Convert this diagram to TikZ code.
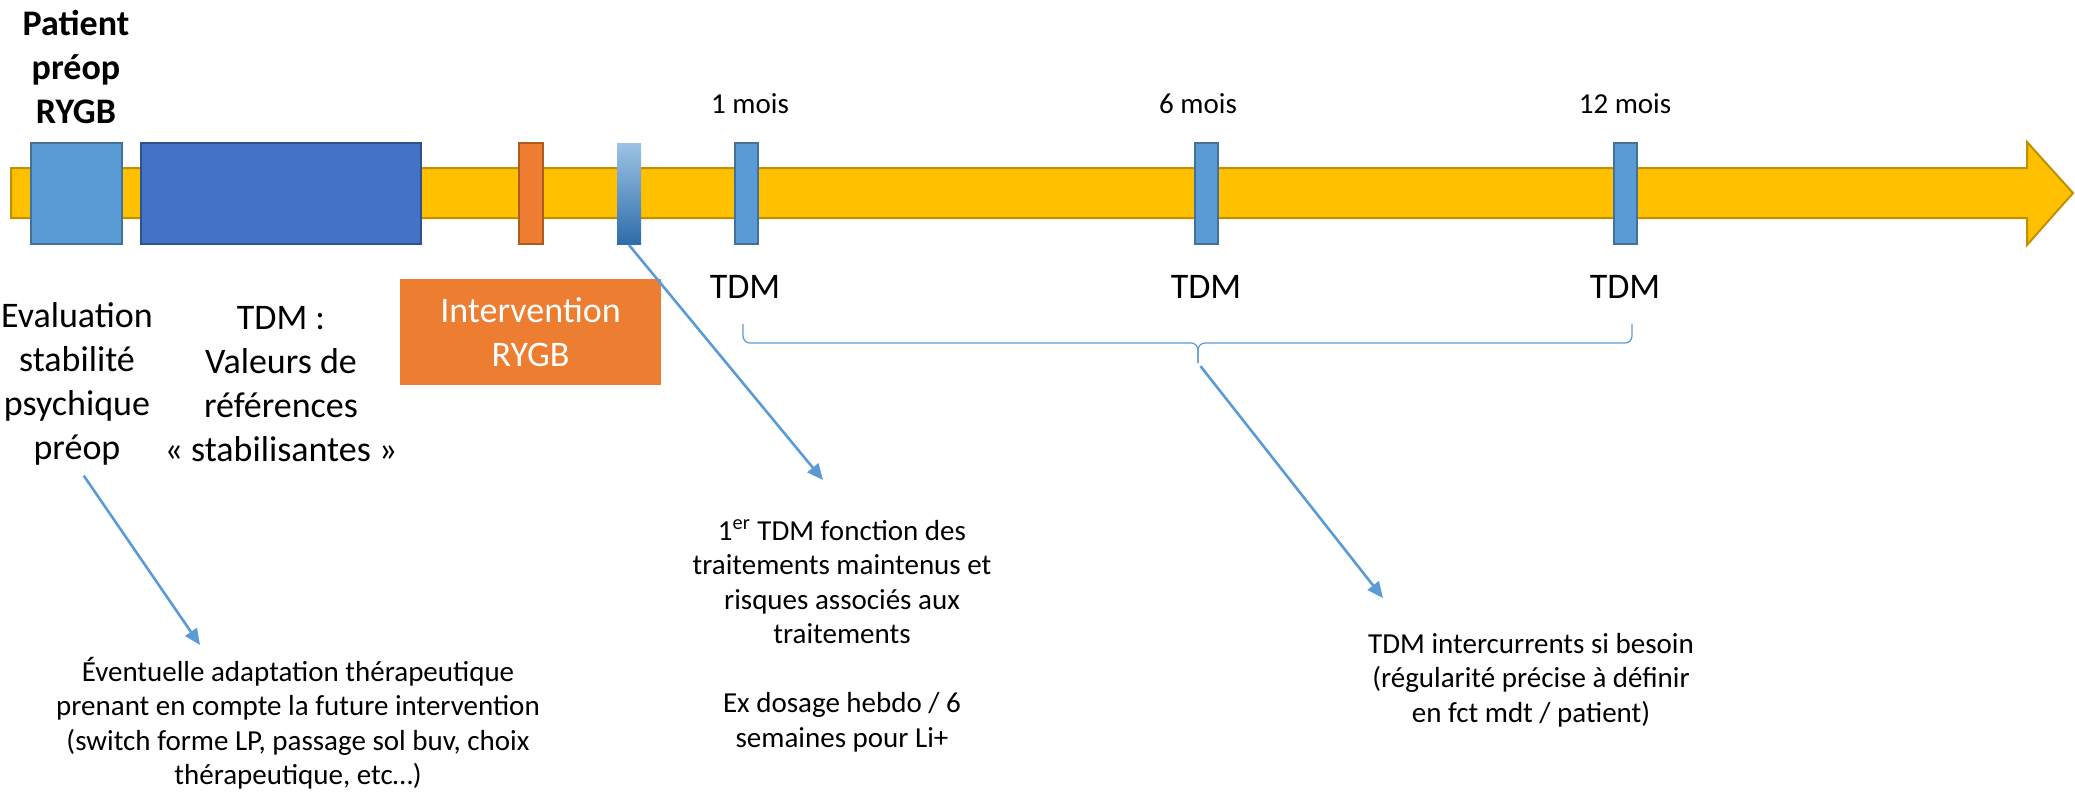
\documentclass[tikz,border=0pt]{standalone}
\usepackage{fontspec}
\setmainfont{Carlito}
\usepackage{xcolor}
\usepackage{tikz}
\usetikzlibrary{positioning, arrows.meta, calc}

\definecolor{tlYellow}{HTML}{FFC000}
\definecolor{tlYellowDark}{HTML}{BF9000}
\definecolor{tdmBlue}{HTML}{5B9BD5}
\definecolor{tdmBlueDark}{HTML}{41719C}
\definecolor{refBlue}{HTML}{4472C4}
\definecolor{refBlueDark}{HTML}{2F528F}
\definecolor{opOrange}{HTML}{ED7D31}
\definecolor{opOrangeDark}{HTML}{AE5A21}
\definecolor{gradTop}{HTML}{9DC3E6}
\definecolor{gradBottom}{HTML}{2E6DAA}

\begin{document}
\begin{tikzpicture}[
        x=0.5pt, y=-0.5pt,
        >=Stealth,
        % the yellow time axis
        timeline/.style={fill=tlYellow, draw=tlYellowDark, line width=1pt, line join=miter},
        % the boxes sitting on the axis
        phase/.style={rectangle, line width=1pt, minimum height=50.5pt, inner sep=0pt},
        tdmmark/.style={phase, fill=tdmBlue, draw=tdmBlueDark, minimum width=11.5pt},
        bigtext/.style={align=center, font=\fontsize{18}{22}\selectfont, inner sep=0pt},
        smalltext/.style={align=center, font=\fontsize{14.5}{17.25}\selectfont, inner sep=0pt},
        pointer/.style={-{Triangle[length=8pt,width=7pt]}, draw=tdmBlue, line width=1.3pt},
        bracket/.style={draw=tdmBlue, line width=0.6pt, rounded corners=3.5pt}
    ]
    \useasboundingbox (0,0) rectangle (2075,799);

    % --- Time axis ---
    \draw[timeline] (11,168) -- (2027,168) -- (2027,142) -- (2073,193)
        -- (2027,245) -- (2027,218) -- (11,218) -- cycle;

    % --- Pre-op and surgery boxes ---
    \node[phase, fill=tdmBlue, draw=tdmBlueDark, minimum width=45.5pt] (evalbox) at (76.5,193) {};
    \node[phase, fill=refBlue, draw=refBlueDark, minimum width=140pt] (refbox) at (280.5,193) {};
    \node[phase, fill=opOrange, draw=opOrangeDark, minimum width=12pt] (opbox) at (530.5,193) {};
    \node[phase, top color=gradTop, bottom color=gradBottom, minimum width=12pt] (firstbox) at (629,193.5) {};

    % --- TDM markers ---
    \node[tdmmark] (m1) at (746,193) {};
    \node[tdmmark] (m6) at (1206,193) {};
    \node[tdmmark] (m12) at (1625,193) {};

    \node[smalltext, anchor=base] (t1) at (750,113) {1 mois};
    \node[smalltext, anchor=base] (t6) at (1198,113) {6 mois};
    \node[smalltext, anchor=base] (t12) at (1625,113) {12 mois};

    \node[bigtext, anchor=base] (d1) at (745,298) {TDM};
    \node[bigtext, anchor=base] (d6) at (1206,298) {TDM};
    \node[bigtext, anchor=base] (d12) at (1625,298) {TDM};

    % --- Labels of the boxes ---
    \node[bigtext, font=\fontsize{18}{22}\selectfont\bfseries] (patient) at (76,67) {Patient\\préop\\RYGB};
    \node[bigtext] (eval) at (77,384) {Evaluation\\stabilité\\psychique\\préop};
    \node[bigtext] (tdmref) at (281,384) {TDM :\\Valeurs de\\références\\« stabilisantes »};
    \node[bigtext, fill=opOrange, text=white, minimum width=130.5pt, minimum height=53pt] (interv) at (530.5,332) {Intervention\\RYGB};

    % --- Notes ---
    \node[smalltext] (evalnote) at (298,723) {Éventuelle adaptation thérapeutique\\prenant en compte la future intervention\\(switch forme LP, passage sol buv, choix\\thérapeutique, etc…)};
    \node[smalltext] (firstnote) at (842,636) {1\textsuperscript{er} TDM fonction des\\traitements maintenus et\\risques associés aux\\traitements\\[17.25pt]Ex dosage hebdo / 6\\semaines pour Li+};
    \node[smalltext] (laternote) at (1531,680) {TDM intercurrents si besoin\\(régularité précise à définir\\en fct mdt / patient)};

    % --- Brace over the post-op TDM ---
    \coordinate (braceL) at (743,324);
    \coordinate (braceR) at (1632,324);
    \coordinate (braceTip) at (1198,363);
    \draw[bracket] (braceL) |- (braceTip |- 0,343) -- (braceTip);
    \draw[bracket] (braceR) |- (braceTip |- 0,343) -- (braceTip);

    % --- Pointers ---
    \coordinate (evalaim) at (200,645);
    \coordinate (firstaim) at (823,480);
    \coordinate (lateraim) at (1383,598);
    \draw[pointer, shorten <=6pt] (eval.south) -- (evalaim);
    \draw[pointer] (firstbox.south) -- (firstaim);
    \draw[pointer, shorten <=2pt] (braceTip) -- (lateraim);

\end{tikzpicture}
\end{document}
